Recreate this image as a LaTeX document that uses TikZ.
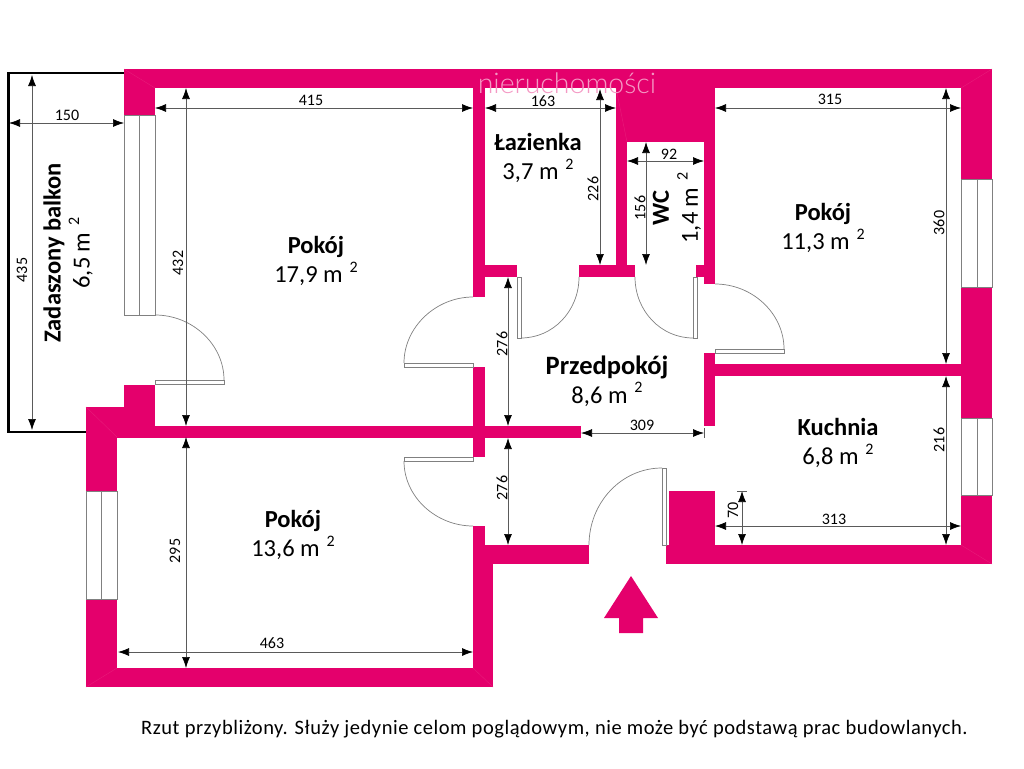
\documentclass[tikz,border=0pt]{standalone}
\usepackage{fontspec}
\setmainfont{Carlito}
\newfontfamily\notefont[LetterSpace=2.6]{Carlito}
\newfontfamily\markfont{Lato Light}
\usetikzlibrary{arrows.meta}
\definecolor{wallpink}{HTML}{E4006C}
\definecolor{mitrepink}{HTML}{E81C7A}
\definecolor{linegray}{HTML}{5A5A5A}
\definecolor{doorgray}{HTML}{808080}
\newcommand{\sqm}[1]{#1 m\hspace{.28em}\raisebox{.42em}{\fontsize{16}{16}\selectfont 2}}
\begin{document}
\begin{tikzpicture}[x=1pt,y=-1pt,
                wall/.style={fill=wallpink,draw=none},
                mitre/.style={draw=mitrepink,line width=0.4pt},
                balcony/.style={draw=black,line width=2.6pt},
                window/.style={draw=doorgray,line width=0.7pt},
                leaf/.style={draw=doorgray,line width=0.7pt,fill=white},
                swing/.style={draw=doorgray,line width=0.7pt},
                dim/.style={draw=linegray,line width=0.7pt,{Latex[black,length=11pt,width=8pt]}-{Latex[black,length=11pt,width=8pt]}},
                dimlabel/.style={font=\fontsize{16}{16}\selectfont,inner sep=0pt},
                room/.style={font=\fontsize{24.5}{29}\selectfont,align=center,inner sep=0pt},]
    \useasboundingbox (0,0) rectangle (1024,768);
    % balcony
    \draw[balcony] (124,73) -- (8.5,73) -- (8.5,432) -- (86,432);
    % walls
    \foreach \xa/\ya/\xb/\yb in {124/69/992/88,124/69/155/115,961/69/992/179,961/287/992/418,
            961/495/992/564,666/545/992/564,669/491/715/545,124/385/155/438,155/426/581/438,
            86/407/155/438,86/407/117/491,86/599/117/687,86/668/493/687,473/526/485/564,
            473/545/493/687,473/545/589/564,473/88/485/297,473/367/485/457,485/265/517/277,
            579/265/635/277,616/88/627/265,616/69/715/142,704/88/715/284,696/265/704/277,
            704/353/715/426,715/364/961/376}
        \fill[wall] (\xa,\ya) rectangle (\xb,\yb);
    \foreach \xa/\ya/\xb/\yb in {124/69/155/88,616/88/627/142,961/88/992/69,961/545/992/564,
            473/668/493/687,86/687/117/668,86/407/117/437}
        \draw[mitre] (\xa,\ya) -- (\xb,\yb);
    % windows
    \foreach \xa/\ya/\xb/\yb/\xm in {124/115/155/315/139.5,86/491/117/599/101,961/179/992/287/977,961/418/992/495/977} {
        \draw[window] (\xa,\ya) rectangle (\xb,\yb);
        \draw[window] (\xm,\ya) -- (\xm,\yb);
    }
    % doors
    \draw[leaf] (155,380) rectangle (224,384);
    \draw[swing] (155,315) .. controls (193,315) and (224,345) .. (224,380);
    \draw[leaf] (404,363) rectangle (473,367);
    \draw[swing] (404,363) .. controls (404,327) and (436,297) .. (473,297);
    \draw[leaf] (404,457) rectangle (473,461);
    \draw[swing] (404,461) .. controls (404,497) and (436,526) .. (473,526);
    \draw[leaf] (517,277) rectangle (521,338);
    \draw[swing] (521,338) .. controls (553,338) and (579,311) .. (579,277);
    \draw[leaf] (693,277) rectangle (697,338);
    \draw[swing] (693,338) .. controls (661,338) and (635,311) .. (635,277);
    \draw[leaf] (715,349) rectangle (784,353);
    \draw[swing] (715,284) .. controls (753,284) and (784,314) .. (784,349);
    \draw[leaf] (662,468) rectangle (666,545);
    \draw[swing] (589,545) .. controls (589,503) and (621,468) .. (662,468);
    % entrance arrow
    \fill[wall] (631,576) -- (658,618) -- (643,618) -- (643,633) -- (619,633) -- (619,618) -- (604,618) -- cycle;
    % dimensions
    \foreach \xa/\ya/\xb/\yb in {9/123/124/123,32/75/32/430,155/108/473/108,186/88/186/426,
            485/108/616/108,600/89/600/265,627/161/704/161,646/142/646/265,508/277/508/426,
            581/433/704/433,508/438/508/545,715/108/961/108,946/88/946/364,946/376/946/545,
            715/526/961/526,742/491/742/545,186/437/186/668,118/652/473/652}
        \draw[dim] (\xa,\ya) -- (\xb,\yb);
    \draw[linegray,line width=0.6pt] (704,428) -- (704,438);
    \draw[linegray,line width=0.6pt] (737,491) -- (747,491);
    % horizontal labels
    \foreach \lx/\ly/\ltxt in {67/115/150,311/100/415,543/101/163,669/154/92,642/425/309,
            830/99/315,834/519/313,272/643/463}
        \node[dimlabel] (dim\ltxt) at (\lx,\ly) {\ltxt};
    % rotated labels
    \foreach \lx/\ly/\ltxt in {22/270/435,178/263/432,593/189/226,640/208/156,939/223/360,
            939/440/216,733/510/70,175/551/295}
        \node[dimlabel,rotate=90] (dim\ltxt) at (\lx,\ly) {\ltxt};
    \node[dimlabel,rotate=90] (dimhallup) at (502,344) {276};
    \node[dimlabel,rotate=90] (dimhalldown) at (502,488) {276};
    % rooms
    \node[room] (bigroom) at (316,261) {\textbf{Pokój}\\\sqm{17,9}};
    \node[room] (bath) at (538,158) {\textbf{Łazienka}\\\sqm{3,7}};
    \node[room] (hall) at (607,381) {\fontsize{26.5}{29}\selectfont\textbf{Przedpokój}\\\sqm{8,6}};
    \node[room] (sideroom) at (823,228) {\textbf{Pokój}\\\sqm{11,3}};
    \node[room] (kitchen) at (838,443) {\textbf{Kuchnia}\\\sqm{6,8}};
    \node[room] (lowroom) at (293,535) {\textbf{Pokój}\\\sqm{13,6}};
    \node[room,rotate=90] (terrace) at (68,253) {\textbf{Zadaszony balkon}\\\sqm{6,5}};
    \node[room,rotate=90] (toilet) at (677,208) {\textbf{WC}\\\sqm{1,4}};
    % note and watermark
    \node[font=\notefont\fontsize{20.5}{22}\selectfont,inner sep=0pt] (note) at (554.5,729)
        {Rzut przybliżony. Służy jedynie celom poglądowym, nie może być podstawą prac budowlanych.};
    \node[font=\markfont\fontsize{28.5}{29}\selectfont,text=wallpink!40,inner sep=0pt] (mark) at (567,83) {nieruchomości};
\end{tikzpicture}
\end{document}
